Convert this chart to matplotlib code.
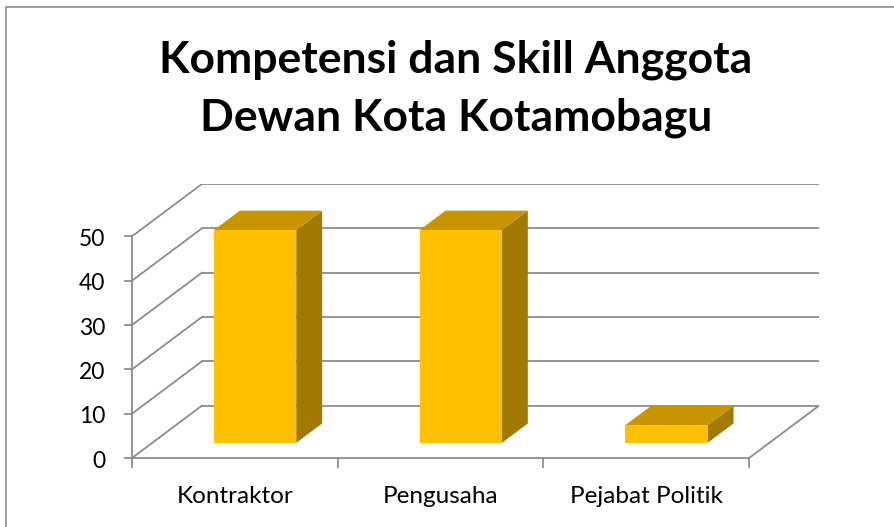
import matplotlib.pyplot as plt
from matplotlib.patches import Polygon, Rectangle

categories = ['Kontraktor', 'Pengusaha', 'Pejabat Politik']
values = [48, 48, 4]
yticks = [0, 10, 20, 30, 40, 50]
title_lines = ['Kompetensi dan Skill Anggota', 'Dewan Kota Kotamobagu']

# oblique depth of the 3D box, in data units
DX, DY = 0.34, 11.8
D0, D1 = 0.29, 0.66   # bar depth range (fraction of full depth)
BW = 0.40             # bar width
grid_c = '#8c8c8c'
c_front, c_top, c_side = '#FFC000', '#C69500', '#A37A00'

plt.rcParams['font.family'] = ['Lato', 'DejaVu Sans']

fig = plt.figure(figsize=(8.95, 5.27), dpi=100)
W, H = 895, 527
# chart area border (only top and left edges fall inside the image)
fig.patches.append(Rectangle((6 / W, -0.5), 2.0, 1.5 - 7 / H, transform=fig.transFigure,
                             fill=False, ec='#8c8c8c', lw=1.2))

ax = fig.add_axes([132 / W, (H - 458) / H, (819 - 132) / W, (458 - 184) / H])
ax.set_xlim(0, 3 + DX)
ax.set_ylim(0, 50 + DY)
ax.axis('off')

# back wall gridlines and side wall diagonals
for v in yticks:
    ax.plot([DX, 3 + DX], [v + DY, v + DY], color=grid_c, lw=1.3, zorder=1)
    ax.plot([0, DX], [v, v + DY], color=grid_c, lw=1.3, zorder=1)
ax.plot([3, 3 + DX], [0, DY], color=grid_c, lw=1.3, zorder=1)

# front axes
ax.plot([0, 0], [0, 50], color=grid_c, lw=1.3, clip_on=False)
ax.plot([0, 3], [0, 0], color=grid_c, lw=1.3, clip_on=False)
for v in yticks:
    ax.plot([-0.035, 0], [v, v], color=grid_c, lw=1.3, clip_on=False)
    ax.text(-0.131, v - 2.2, str(v), ha='right', va='baseline', fontsize=16.5)
for i in range(4):
    ax.plot([i, i], [0, -2], color=grid_c, lw=1.3, clip_on=False)
for i, c in enumerate(categories):
    ax.text(i + 0.5, -10.2, c, ha='center', va='baseline', fontsize=17.5)

# 3D bars
for i, v in enumerate(values):
    x0 = i + (1 - BW) / 2 + D0 * DX
    x1 = x0 + BW
    y0 = D0 * DY
    y1 = y0 + v
    ddx, ddy = (D1 - D0) * DX, (D1 - D0) * DY
    ax.add_patch(Polygon([(x1, y0), (x1 + ddx, y0 + ddy), (x1 + ddx, y1 + ddy), (x1, y1)],
                         fc=c_side, ec='none', zorder=3))
    ax.add_patch(Polygon([(x0, y1), (x1, y1), (x1 + ddx, y1 + ddy), (x0 + ddx, y1 + ddy)],
                         fc=c_top, ec='none', zorder=3))
    ax.add_patch(Polygon([(x0, y0), (x1, y0), (x1, y1), (x0, y1)],
                         fc=c_front, ec='none', zorder=4))

for line, base in zip(title_lines, [72, 131]):
    fig.text(456 / W, 1 - base / H, line, ha='center', va='baseline', fontsize=32,
             fontweight='bold')

fig.savefig('out.png', dpi=100)
